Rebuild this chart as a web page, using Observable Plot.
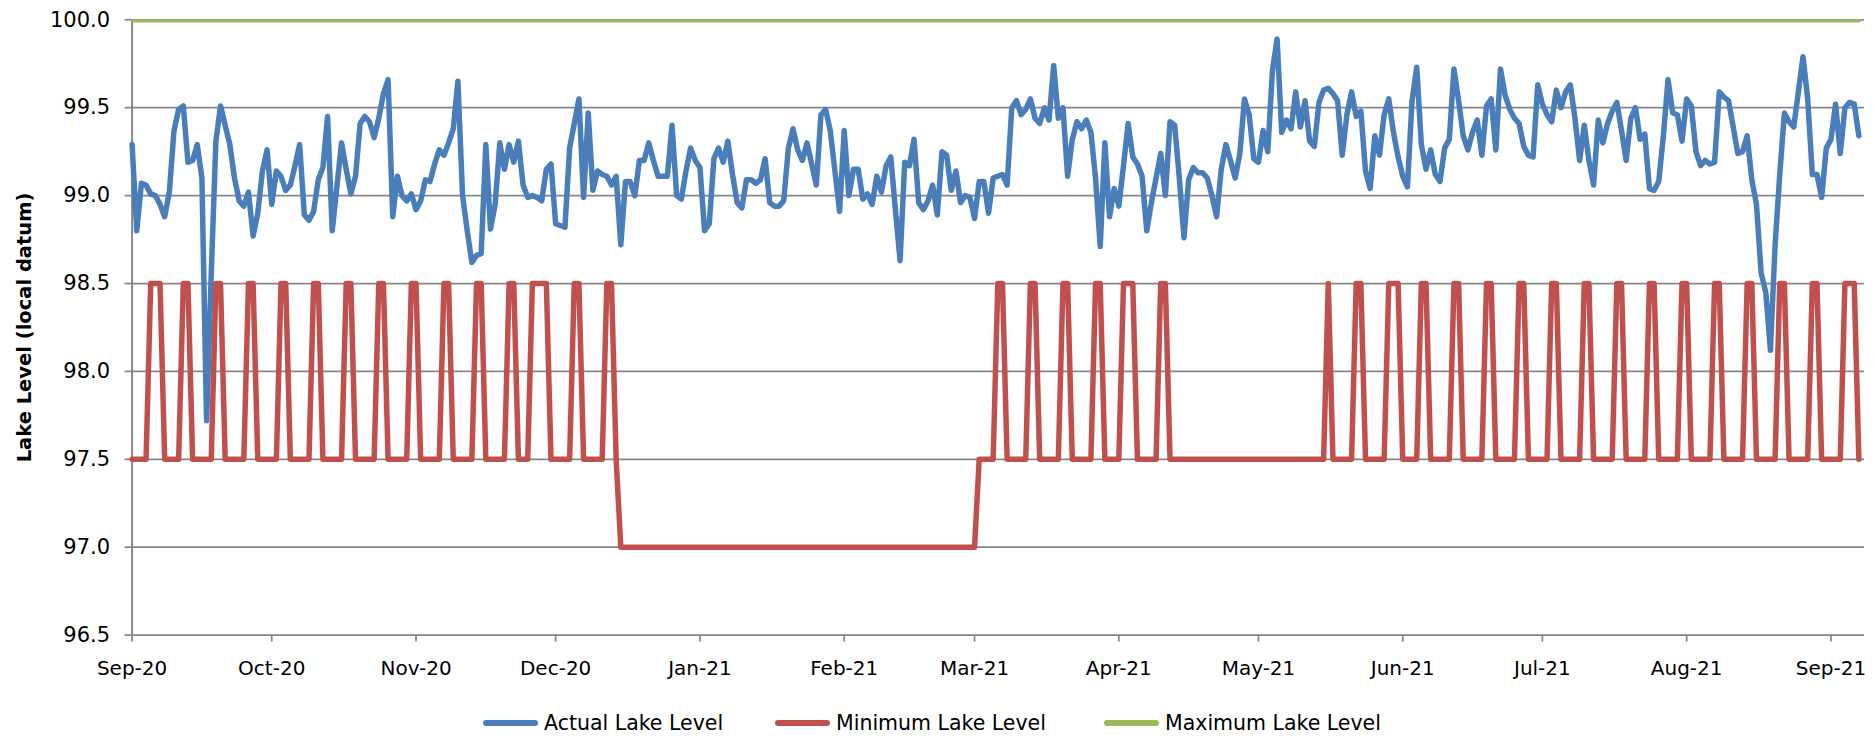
<!DOCTYPE html>
<html>
<head>
<meta charset="utf-8">
<script src="https://cdn.jsdelivr.net/npm/d3@7"></script>
<script src="https://cdn.jsdelivr.net/npm/@observablehq/plot@0.6"></script>
<style>
  html, body { margin: 0; padding: 0; background: #fff; }
  #chart { width: 1874px; height: 741px; position: relative; overflow: hidden; }
  #legend { position: relative; height: 46px; font-family: "DejaVu Sans", sans-serif; font-size: 20.5px; color: #000; }
  .item { position: absolute; top: 15px; height: 26px; display: flex; align-items: center; white-space: nowrap; }
  .swatch { display: inline-block; width: 55px; height: 6px; border-radius: 3px; margin-right: 6px; }
</style>
</head>
<body>
<div id="chart"></div>
<script>
// ---------------- data ----------------
const seriesNames = ["Actual Lake Level", "Minimum Lake Level", "Maximum Lake Level"];
const seriesColors = ["#4A7EBB", "#C0504D", "#9BBB59"];

// daily actual lake level, one array per month, starting on the 1st
const sep20 = [99.29,98.80,99.07,99.06,99.01,99.00,98.95,98.88,99.02,99.37,99.49,99.51,99.19,99.20,99.29,99.10,97.72,98.55,99.31,99.51,99.40,99.29,99.10,98.97,98.94,99.02,98.77,98.90,99.14,99.26];
const oct20 = [98.95,99.14,99.11,99.03,99.06,99.17,99.29,98.89,98.86,98.91,99.09,99.16,99.45,98.80,99.05,99.30,99.15,99.01,99.11,99.41,99.45,99.42,99.33,99.44,99.58,99.66,98.88,99.11,99.00,98.97,99.01];
const nov20 = [98.92,98.97,99.09,99.08,99.18,99.26,99.23,99.30,99.38,99.65,99.00,98.80,98.62,98.66,98.67,99.29,98.81,98.95,99.30,99.15,99.29,99.19,99.31,99.06,98.99,99.00,98.99,98.97,99.15,99.18];
const dec20 = [98.84,98.83,98.82,99.27,99.41,99.55,98.99,99.47,99.03,99.14,99.12,99.11,99.06,99.11,98.72,99.08,99.08,99.00,99.20,99.20,99.30,99.20,99.11,99.11,99.11,99.40,99.00,98.98,99.14,99.27,99.20];
const jan21 = [99.16,98.80,98.84,99.21,99.27,99.19,99.31,99.12,98.96,98.93,99.09,99.09,99.07,99.09,99.21,98.96,98.94,98.94,98.97,99.27,99.38,99.26,99.20,99.30,99.18,99.06,99.46,99.49,99.37,99.14,98.91];
const feb21 = [99.37,99.00,99.15,99.15,98.98,99.01,98.95,99.11,99.02,99.17,99.22,98.92,98.63,99.19,99.17,99.32,98.96,98.92,98.97,99.06,98.89,99.25,99.23,99.03,99.14,98.96,99.00,98.99];
const mar21 = [98.87,99.08,99.08,98.90,99.10,99.11,99.12,99.06,99.50,99.54,99.46,99.49,99.55,99.44,99.41,99.50,99.43,99.74,99.44,99.50,99.11,99.32,99.42,99.38,99.43,99.36,99.10,98.71,99.30,98.88,99.04];
const apr21 = [98.94,99.17,99.41,99.22,99.18,99.11,98.80,98.96,99.10,99.24,99.00,99.42,99.40,99.10,98.76,99.09,99.16,99.13,99.13,99.10,99.00,98.88,99.15,99.29,99.20,99.10,99.24,99.55,99.46,99.21];
const may21 = [99.19,99.37,99.25,99.71,99.89,99.36,99.43,99.38,99.59,99.39,99.54,99.31,99.28,99.53,99.60,99.61,99.58,99.54,99.23,99.46,99.59,99.45,99.48,99.14,99.04,99.34,99.23,99.46,99.55,99.36,99.22];
const jun21 = [99.11,99.05,99.54,99.73,99.29,99.15,99.26,99.12,99.08,99.27,99.32,99.72,99.54,99.34,99.26,99.36,99.43,99.23,99.51,99.55,99.26,99.72,99.57,99.49,99.44,99.41,99.28,99.23,99.22,99.63];
const jul21 = [99.52,99.46,99.42,99.60,99.50,99.59,99.63,99.44,99.20,99.40,99.20,99.06,99.43,99.30,99.41,99.48,99.53,99.37,99.20,99.44,99.50,99.32,99.35,99.04,99.03,99.08,99.34,99.66,99.47,99.46,99.31];
const aug21 = [99.55,99.51,99.25,99.17,99.20,99.18,99.19,99.59,99.56,99.54,99.39,99.24,99.25,99.34,99.09,98.95,98.56,98.45,98.12,98.72,99.12,99.47,99.42,99.39,99.59,99.79,99.55,99.12,99.12,98.99,99.27];
const sep21 = [99.32,99.52,99.24,99.50,99.53,99.52,99.34];

// minimum lake level: normal level, raised periods (inclusive), winter drawdown
const minNormal = 97.5;
const minRaised = 98.5;
const minWinter = 97.0;
const raisedPeriods = [
  ["2020-09-05","2020-09-07"],["2020-09-12","2020-09-13"],["2020-09-19","2020-09-20"],["2020-09-26","2020-09-27"],
  ["2020-10-03","2020-10-04"],["2020-10-10","2020-10-11"],["2020-10-17","2020-10-18"],["2020-10-24","2020-10-25"],
  ["2020-10-31","2020-11-01"],["2020-11-07","2020-11-08"],["2020-11-14","2020-11-15"],["2020-11-21","2020-11-22"],
  ["2020-11-26","2020-11-29"],["2020-12-05","2020-12-06"],["2020-12-12","2020-12-13"],
  ["2021-03-06","2021-03-07"],["2021-03-13","2021-03-14"],["2021-03-20","2021-03-21"],["2021-03-27","2021-03-28"],
  ["2021-04-02","2021-04-04"],["2021-04-10","2021-04-11"],
  ["2021-05-16","2021-05-16"],["2021-05-22","2021-05-23"],["2021-05-29","2021-05-31"],["2021-06-05","2021-06-06"],
  ["2021-06-12","2021-06-13"],["2021-06-19","2021-06-20"],["2021-06-26","2021-06-27"],["2021-07-03","2021-07-04"],
  ["2021-07-10","2021-07-11"],["2021-07-17","2021-07-18"],["2021-07-24","2021-07-25"],["2021-07-31","2021-08-01"],
  ["2021-08-07","2021-08-08"],["2021-08-14","2021-08-15"],["2021-08-21","2021-08-22"],["2021-08-28","2021-08-29"],
  ["2021-09-04","2021-09-06"]
];
const winterPeriod = ["2020-12-15","2021-03-01"];

// maximum lake level
const maxLevel = 100.0;

// axes
const yTicks = [96.5, 97.0, 97.5, 98.0, 98.5, 99.0, 99.5, 100.0];
const monthTicks = ["2020-09-01","2020-10-01","2020-11-01","2020-12-01","2021-01-01","2021-02-01","2021-03-01",
  "2021-04-01","2021-05-01","2021-06-01","2021-07-01","2021-08-01","2021-09-01"];
const firstDate = "2020-09-01";
const axisEnd = "2021-09-08T05:00:00Z";
const yLabel = "Lake Level (local datum)";

// ---------------- build tables ----------------
const parse = s => new Date(s.length === 10 ? s + "T00:00:00Z" : s);
const start = parse(firstDate);
const actualValues = [].concat(sep20, oct20, nov20, dec20, jan21, feb21, mar21, apr21, may21, jun21, jul21, aug21, sep21);
const actual = actualValues.map((v, i) => ({date: d3.utcDay.offset(start, i), level: v}));
const inRange = (d, [a, b]) => d >= parse(a) && d <= parse(b);
const minimum = actual.map(({date}) => ({
  date,
  level: raisedPeriods.some(p => inRange(date, p)) ? minRaised : inRange(date, winterPeriod) ? minWinter : minNormal
}));
const maximum = actual.map(({date}) => ({date, level: maxLevel}));

const grid = "#878787";
const lw = 5.5;

const chart = Plot.plot({
  width: 1874,
  height: 695,
  marginLeft: 131.6,
  marginRight: 10,
  marginTop: 19.3,
  marginBottom: 60.4,
  style: {fontFamily: "DejaVu Sans, sans-serif", fontSize: "20px", color: "#000", background: "#fff"},
  x: {type: "utc", domain: [start, parse(axisEnd)], axis: null},
  y: {domain: [96.5, 100], axis: null},
  marks: [
    Plot.ruleY(yTicks, {stroke: grid, strokeWidth: 1.75}),
    Plot.ruleX([start], {stroke: grid, strokeWidth: 2}),
    Plot.axisY(yTicks, {tickSize: 7, tickPadding: 15, fontSize: 21, tickFormat: d3.format(".1f"), stroke: grid, strokeWidth: 1.75, fill: "#000", label: null}),
    Plot.axisX(monthTicks.map(parse), {tickSize: 7, tickPadding: 19, tickFormat: d3.utcFormat("%b-%y"), stroke: grid, strokeWidth: 1.75, fill: "#000", label: null}),
    Plot.line(actual, {x: "date", y: "level", stroke: seriesColors[0], strokeWidth: lw, strokeLinejoin: "round", strokeLinecap: "round"}),
    Plot.line(minimum, {x: "date", y: "level", stroke: seriesColors[1], strokeWidth: lw, strokeLinejoin: "round", strokeLinecap: "round"}),
    Plot.line(maximum, {x: "date", y: "level", stroke: seriesColors[2], strokeWidth: lw, clip: true}),
    Plot.text([yLabel], {frameAnchor: "left", dx: -107.6, rotate: -90, textAnchor: "middle", fontWeight: "bold", fontSize: 19.5, fill: "#000"})
  ]
});
document.getElementById("chart").appendChild(chart);

// legend below the SVG
const legend = document.createElement("div");
legend.id = "legend";
const legendLeft = [483, 775, 1104];
seriesNames.forEach((name, i) => {
  const item = document.createElement("div");
  item.className = "item";
  item.style.left = legendLeft[i] + "px";
  const sw = document.createElement("span");
  sw.className = "swatch";
  sw.style.background = seriesColors[i];
  const tx = document.createElement("span");
  tx.textContent = name;
  item.appendChild(sw);
  item.appendChild(tx);
  legend.appendChild(item);
});
document.getElementById("chart").appendChild(legend);
</script>
</body>
</html>
